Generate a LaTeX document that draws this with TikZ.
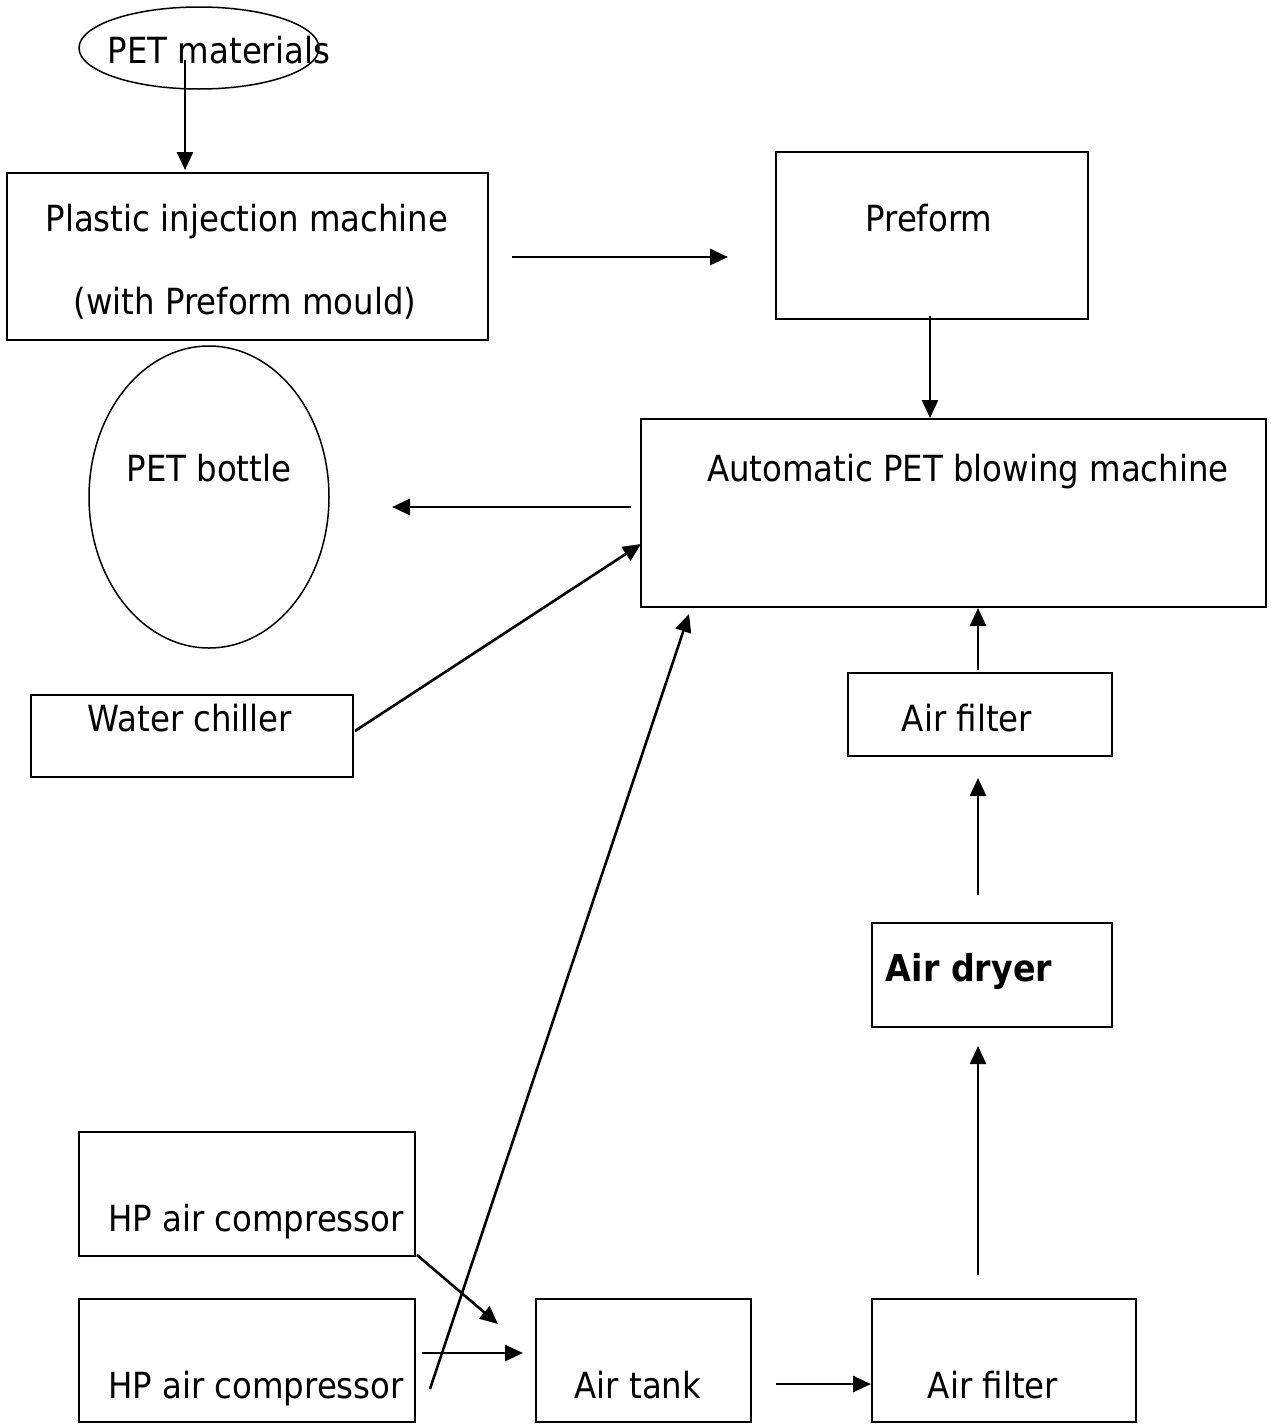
\documentclass[tikz,border=0pt]{standalone}
\usepackage{fontspec}
\IfFontExistsTF{DejaVu Sans Condensed}{\setmainfont{DejaVu Sans Condensed}}{\setmainfont{DejaVu Sans}}
\usetikzlibrary{arrows.meta,shapes.geometric}
\begin{document}
\begin{tikzpicture}[x=1pt,y=-1pt,
  box/.style={draw,line width=1.5pt,inner sep=0pt,rectangle},
  oval/.style={draw,line width=1.5pt,inner sep=0pt,ellipse},
  lbl/.style={anchor=base,inner sep=0pt,font=\fontsize{36}{40}\selectfont},
  arr/.style={line width=2.6pt,-{Triangle[length=18pt,width=16pt]}}]
\useasboundingbox (0,0) rectangle (1270,1424);
% shapes
\node[oval,minimum width=240pt,minimum height=82pt] (petm) at (199,48) {};
\node[box,minimum width=481pt,minimum height=167pt] (pim) at (247.5,256.5) {};
\node[box,minimum width=312pt,minimum height=167pt] (pre) at (932,235.5) {};
\node[box,minimum width=625pt,minimum height=188pt] (auto) at (953.5,513) {};
\node[oval,minimum width=240pt,minimum height=302pt] (bottle) at (209,497) {};
\node[box,minimum width=322pt,minimum height=82pt] (wc) at (192,736) {};
\node[box,minimum width=264pt,minimum height=83pt] (af1) at (980,714.5) {};
\node[box,minimum width=240pt,minimum height=104pt] (ad) at (992,975) {};
\node[box,minimum width=336pt,minimum height=124pt] (hp1) at (247,1194) {};
\node[box,minimum width=336pt,minimum height=123pt] (hp2) at (247,1360.5) {};
\node[box,minimum width=215pt,minimum height=123pt] (tank) at (643.5,1360.5) {};
\node[box,minimum width=264pt,minimum height=123pt] (af2) at (1004,1360.5) {};
% texts
\node[lbl] (tpetm) at (219,63) {PET materials};
\node[lbl] (tpim1) at (247,231) {Plastic injection machine};
\node[lbl] (tpim2) at (245,314) {(with Preform mould)};
\node[lbl] (tpre) at (929,231) {Preform};
\node[lbl] (tauto) at (968,481) {Automatic PET blowing machine};
\node[lbl] (tbottle) at (209,481) {PET bottle};
\node[lbl] (twc) at (190,731) {Water chiller};
\node[lbl] (taf1) at (967,731) {Air filter};
\node[lbl,font=\fontsize{37}{40}\selectfont\bfseries] (tad) at (969,981) {Air dryer};
\node[lbl] (thp1) at (256,1231) {HP air compressor};
\node[lbl] (thp2) at (256,1398) {HP air compressor};
\node[lbl] (ttank) at (638,1398) {Air tank};
\node[lbl] (taf2) at (993,1398) {Air filter};
% connector end points
\coordinate (c1a) at (185,60);   \coordinate (c1b) at (185,170);
\coordinate (c2a) at (512,257);  \coordinate (c2b) at (728,257);
\coordinate (c3a) at (930,316);  \coordinate (c3b) at (930,418);
\coordinate (c4a) at (631,507);  \coordinate (c4b) at (392,507);
\coordinate (c5a) at (355,731);  \coordinate (c5b) at (641,544);
\coordinate (c6a) at (978,670);  \coordinate (c6b) at (978,608);
\coordinate (c7a) at (978,895);  \coordinate (c7b) at (978,778);
\coordinate (c8a) at (978,1275); \coordinate (c8b) at (978,1046);
\coordinate (c9a) at (776,1384); \coordinate (c9b) at (871,1384);
\coordinate (c10a) at (417,1255); \coordinate (c10b) at (498,1324);
\coordinate (c11a) at (422,1353); \coordinate (c11b) at (523,1353);
\coordinate (c12a) at (430,1389); \coordinate (c12b) at (689,614);
% connectors
\draw[arr] (c1a) -- (c1b);
\draw[arr] (c2a) -- (c2b);
\draw[arr] (c3a) -- (c3b);
\draw[arr] (c4a) -- (c4b);
\draw[arr] (c5a) -- (c5b);
\draw[arr] (c6a) -- (c6b);
\draw[arr] (c7a) -- (c7b);
\draw[arr] (c8a) -- (c8b);
\draw[arr] (c9a) -- (c9b);
\draw[arr] (c10a) -- (c10b);
\draw[arr] (c11a) -- (c11b);
\draw[arr] (c12a) -- (c12b);
\end{tikzpicture}
\end{document}
